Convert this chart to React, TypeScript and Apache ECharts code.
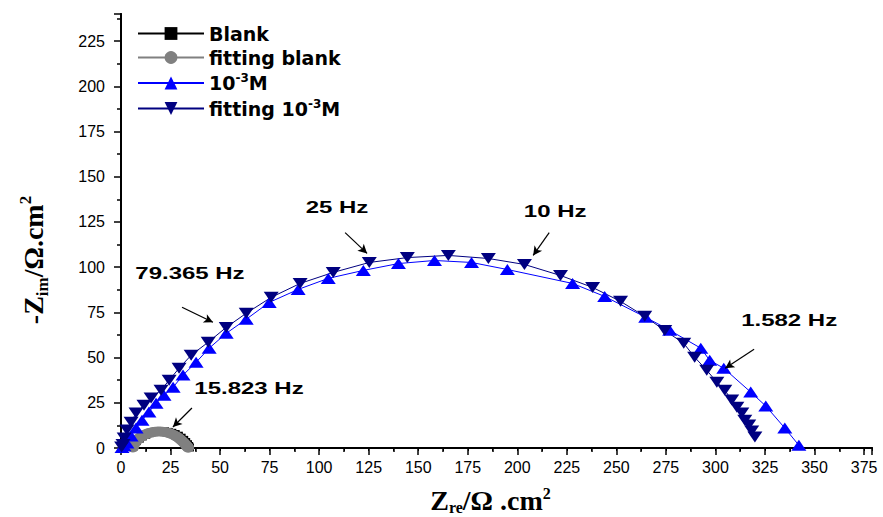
import React, { useEffect, useRef } from "react";
import * as echarts from "echarts";

// ---- data ----
const blankX = [6.2, 7.0, 8.0, 9.5, 11.0, 12.8, 14.6, 16.5, 18.4, 20.3, 22.2, 24.1, 25.9, 27.6, 29.2, 30.6, 31.9, 32.9, 33.8, 34.4, 34.8];
const blankY = [0.5, 2.2, 3.8, 5.2, 6.4, 7.4, 8.2, 8.8, 9.2, 9.3, 9.2, 8.9, 8.4, 7.7, 6.8, 5.7, 4.5, 3.3, 2.1, 1.1, 0.3];

const fitBlankX = [6.0, 6.3, 6.8, 7.5, 8.3, 9.2, 10.2, 11.3, 12.4, 13.6, 14.8, 16.0, 17.2, 18.5, 19.8, 21.0, 22.3, 23.5, 24.7, 25.8, 26.9, 27.9, 28.9, 29.8, 30.6, 31.4, 32.1, 32.7, 33.2, 33.6, 33.9];
const fitBlankY = [0.3, 1.5, 2.6, 3.6, 4.6, 5.5, 6.3, 7.0, 7.6, 8.1, 8.5, 8.8, 9.0, 9.1, 9.1, 9.0, 8.8, 8.5, 8.1, 7.6, 7.0, 6.4, 5.7, 4.9, 4.1, 3.3, 2.5, 1.8, 1.1, 0.6, 0.2];

const expX = [0.5, 1.5, 3.0, 5.1, 7.6, 10.6, 14.1, 17.7, 21.7, 26.3, 31.3, 37.9, 44.5, 53.1, 63.2, 74.8, 89.4, 104.6, 122.3, 140.0, 158.2, 176.9, 195.0, 227.9, 244.1, 264.8, 276.9, 292.6, 297.1, 304.2, 317.8, 325.4, 335.0, 342.1];
const expY = [0.3, 1.2, 2.8, 6.6, 11.0, 15.4, 19.9, 24.8, 29.2, 33.6, 40.3, 47.4, 55.2, 63.4, 71.2, 80.5, 87.7, 93.8, 98.2, 102.0, 103.7, 102.6, 98.7, 91.0, 83.8, 72.3, 65.1, 55.2, 48.5, 44.1, 30.9, 23.2, 11.0, 1.5];

const fitX = [0.3, 1.0, 1.6, 3.0, 5.1, 7.6, 11.6, 15.2, 20.2, 24.3, 29.3, 35.4, 44.0, 53.1, 63.2, 75.8, 90.4, 107.1, 125.3, 144.5, 165.2, 185.4, 203.6, 221.8, 238.0, 252.1, 264.3, 274.4, 284.0, 289.5, 295.6, 300.7, 304.7, 308.2, 310.8, 313.3, 314.8, 316.8, 318.3, 319.9];
const fitY = [0.5, 2.0, 5.5, 9.9, 14.3, 19.3, 23.7, 27.6, 32.0, 37.5, 44.1, 51.3, 58.5, 66.7, 74.5, 83.3, 91.0, 97.1, 102.6, 105.3, 106.5, 104.8, 101.5, 95.4, 88.8, 81.1, 72.8, 65.0, 57.9, 50.2, 43.0, 36.4, 32.0, 26.5, 22.6, 19.3, 15.4, 12.7, 9.4, 6.1];

const seriesNames = ["Blank", "fitting blank", "10-3M", "fitting 10-3M"];

// annotations: label text and its anchor (data units)
const noteTexts = ["25 Hz", "10 Hz", "79.365 Hz", "15.823 Hz", "1.582 Hz"];
const noteAtX = [109.0, 219.1, 34.8, 64.6, 337.2];
const noteAtY = [132.9, 130.7, 96.5, 33.1, 70.6];
// arrows: start -> end (data units)
const arrowX1 = [113.1, 216.1, 30.8, 35.8, 319.5];
const arrowY1 = [119.1, 119.1, 77.8, 22.1, 54.6];
const arrowX2 = [124.2, 208.0, 46.4, 26.2, 304.9];
const arrowY2 = [107.6, 106.5, 69.5, 11.6, 44.1];

const X_MAX = 379;
const Y_MAX = 240;

const zip = (xs: number[], ys: number[]) => xs.map((x, i) => [x, ys[i]]);

export default function App() {
  const ref = useRef<HTMLDivElement>(null);

  useEffect(() => {
    if (!ref.current) return;
    const chart = echarts.init(ref.current, undefined, { renderer: "svg" });

    const labelFont = { fontFamily: "Liberation Sans", fontSize: 16, color: "#000" };
    const serif = { fontFamily: "Liberation Serif", fontWeight: "bold" as const, color: "#000" };

    const option: any = {
      animation: false,
      backgroundColor: "#fff",
      grid: { left: 121, right: 11, top: 14, bottom: 69, containLabel: false, outerBoundsMode: "none" },
      legend: {
        orient: "vertical",
        left: 132,
        top: 19,
        itemWidth: 66,
        itemHeight: 16,
        itemGap: 5,
        data: seriesNames,
        formatter: (name: string) => name.replace("10-3", "10{sup|-3}"),
        textStyle: {
          fontFamily: "DejaVu Sans",
          fontWeight: "bold",
          fontSize: 19,
          color: "#000",
          lineHeight: 19,
          rich: {
            sup: {
              fontFamily: "DejaVu Sans",
              fontWeight: "bold",
              fontSize: 12,
              color: "#000",
              padding: [0, 0, 10, 0],
            },
          },
        },
      },
      xAxis: [
        {
          type: "value",
          min: 0,
          max: X_MAX,
          interval: 25,
          position: "bottom",
          axisLine: { show: true, lineStyle: { color: "#000", width: 2 } },
          axisTick: { show: true, inside: false, length: 7, lineStyle: { color: "#000", width: 1.5 } },
          minorTick: { show: true, splitNumber: 2, length: 4, lineStyle: { color: "#000", width: 1.5 } },
          splitLine: { show: false },
          axisLabel: { ...labelFont, margin: 11, showMaxLabel: false },
          name: "{z|Z}{sub|re}{z|/Ω .cm}{sup|2}",
          nameLocation: "middle",
          nameGap: 37,
          nameTextStyle: {
            padding: [0, 12, 0, 0],
            rich: {
              z: { ...serif, fontSize: 28 },
              sub: { ...serif, fontSize: 16, padding: [14, 0, 0, 0] },
              sup: { ...serif, fontSize: 16, padding: [0, 0, 14, 0] },
            },
          },
        },
        {
          type: "value",
          min: 0,
          max: X_MAX,
          interval: 12.5,
          position: "top",
          axisLine: { show: true, lineStyle: { color: "#000", width: 2 } },
          axisTick: { show: true, inside: true, length: 3, lineStyle: { color: "#000", width: 1 } },
          axisLabel: { show: false },
          splitLine: { show: false },
        },
      ],
      yAxis: [
        {
          type: "value",
          min: 0,
          max: Y_MAX,
          interval: 25,
          position: "left",
          axisLine: { show: true, lineStyle: { color: "#000", width: 2 } },
          axisTick: { show: true, inside: false, length: 7, lineStyle: { color: "#000", width: 1.5 } },
          minorTick: { show: true, splitNumber: 2, length: 4, lineStyle: { color: "#000", width: 1.5 } },
          splitLine: { show: false },
          axisLabel: { ...labelFont, margin: 16, showMaxLabel: false },
          name: "{z|-Z}{sub|im}{z|/Ω.cm}{sup|2}",
          nameLocation: "middle",
          nameRotate: 90,
          nameGap: 70,
          nameTextStyle: {
            padding: [0, 58, 0, 0],
            rich: {
              z: { ...serif, fontSize: 28 },
              sub: { ...serif, fontSize: 17, padding: [18, 0, 0, 0] },
              sup: { ...serif, fontSize: 17, padding: [0, 0, 16, 0] },
            },
          },
        },
        {
          type: "value",
          min: 0,
          max: Y_MAX,
          position: "right",
          axisLine: { show: true, lineStyle: { color: "#000", width: 2 } },
          axisTick: { show: false },
          axisLabel: { show: false },
          splitLine: { show: false },
        },
      ],
      series: [
        {
          name: seriesNames[0],
          type: "line",
          data: zip(blankX, blankY),
          symbol: "rect",
          symbolSize: 8,
          itemStyle: { color: "#000" },
          lineStyle: { color: "#000", width: 1 },
        },
        {
          name: seriesNames[1],
          type: "line",
          data: zip(fitBlankX, fitBlankY),
          symbol: "circle",
          symbolSize: [12, 10],
          itemStyle: { color: "#808080" },
          lineStyle: { color: "#808080", width: 1 },
        },
        {
          name: seriesNames[2],
          type: "line",
          data: zip(expX, expY),
          symbol: "triangle",
          symbolSize: [15, 11],
          itemStyle: { color: "#0000ff" },
          lineStyle: { color: "#0000ff", width: 1 },
        },
        {
          name: seriesNames[3],
          type: "line",
          data: zip(fitX, fitY),
          symbol: "triangle",
          symbolRotate: 180,
          symbolSize: [15, 11],
          itemStyle: { color: "#000080" },
          lineStyle: { color: "#000080", width: 1 },
        },
        {
          name: "arrows",
          type: "line",
          data: [],
          silent: true,
          markLine: {
            silent: true,
            symbol: ["none", "arrow"],
            symbolSize: [7, 9],
            label: { show: false },
            lineStyle: { color: "#000", width: 1.2, type: "solid" },
            emphasis: { disabled: true },
            data: arrowX1.map((x, i) => [
              { coord: [x, arrowY1[i]] },
              { coord: [arrowX2[i], arrowY2[i]] },
            ]),
          },
        },
      ],
    };

    chart.setOption(option);

    const graphics = noteTexts.map((t, i) => {
      const p = chart.convertToPixel({ xAxisIndex: 0, yAxisIndex: 0 }, [noteAtX[i], noteAtY[i]]) as number[];
      return {
        type: "text",
        x: p[0],
        y: p[1],
        scaleX: 1.5,
        silent: true,
        style: {
          text: t,
          fontFamily: "Liberation Sans",
          fontWeight: "bold",
          fontSize: 16,
          fill: "#000",
          align: "center",
          verticalAlign: "middle",
        },
      };
    });
    chart.setOption({ graphic: graphics });

    return () => chart.dispose();
  }, []);

  return (
    <div
      ref={ref}
      style={{ position: "fixed", left: 0, top: 0, width: 883, height: 517, background: "#fff" }}
    />
  );
}
